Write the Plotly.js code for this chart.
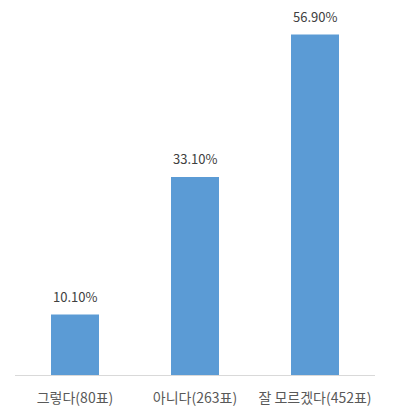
<!DOCTYPE html>
<html>
<head>
<meta charset="utf-8">
<script src="https://cdn.plot.ly/plotly-3.0.1.min.js"></script>
<style>
  html, body { margin: 0; padding: 0; background: #fff; }
  #chart { width: 400px; height: 420px; }
</style>
</head>
<body>
<div id="chart"></div>
<script>
// answers to the poll and their share of votes
const categories = ['그렇다(80표)', '아니다(263표)', '잘 모르겠다(452표)'];
const shares = [10.1, 33.1, 56.9];
const shareLabels = ['10.10%', '33.10%', '56.90%'];

const trace = {
    x: categories,
    y: shares,
    type: 'bar',
    marker: { color: '#5B9BD5' },
    width: 0.4,
    hoverinfo: 'none'
};

// value labels sit a little above each bar
const labels = categories.map((c, i) => ({
    x: c,
    y: shares[i],
    text: shareLabels[i],
    showarrow: false,
    yanchor: 'bottom',
    yshift: 7,
    font: { family: 'Noto Sans CJK KR, sans-serif', size: 13, color: '#404040' }
}));

const layout = {
    width: 400,
    height: 420,
    margin: { t: 16, l: 15, r: 25, b: 45 },
    paper_bgcolor: '#fff',
    plot_bgcolor: '#fff',
    showlegend: false,
    font: { family: 'Noto Sans CJK KR, sans-serif', size: 14, color: '#595959' },
    annotations: labels,
    xaxis: {
        showline: true,
        linecolor: '#D9D9D9',
        linewidth: 1,
        ticks: '',
        ticklabelstandoff: 10,
        showgrid: false,
        zeroline: false,
        fixedrange: true
    },
    yaxis: {
        range: [0, 60],
        visible: false,
        showgrid: false,
        zeroline: false,
        fixedrange: true
    }
};

Plotly.newPlot('chart', [trace], layout, { displayModeBar: false, staticPlot: true });
</script>
</body>
</html>
